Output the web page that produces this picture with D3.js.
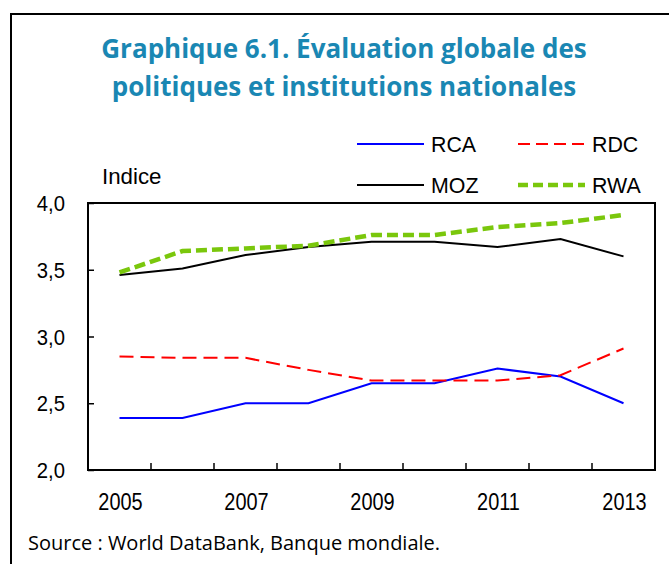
<!DOCTYPE html>
<html>
<head>
<meta charset="utf-8">
<script src="https://cdn.jsdelivr.net/npm/d3@7"></script>
<style>
  body { margin: 0; background: #fff; }
</style>
</head>
<body>
<div id="chart"></div>
<script>
// Data
const years = ["2005", "2006", "2007", "2008", "2009", "2010", "2011", "2012", "2013"];
const yearLabels = ["2005", "2007", "2009", "2011", "2013"];
const yTicks = [2.0, 2.5, 3.0, 3.5, 4.0];

const rca = [2.39, 2.39, 2.50, 2.50, 2.65, 2.65, 2.76, 2.70, 2.50];
const rdc = [2.85, 2.84, 2.84, 2.75, 2.67, 2.67, 2.67, 2.71, 2.91];
const moz = [3.46, 3.51, 3.61, 3.67, 3.71, 3.71, 3.67, 3.73, 3.60];
const rwa = [3.48, 3.64, 3.66, 3.68, 3.76, 3.76, 3.82, 3.85, 3.91];

const series = [
    { name: "RCA", values: rca, color: "#0000ff", width: 2, dash: null },
    { name: "RDC", values: rdc, color: "#ff0000", width: 2, dash: "14,7" },
    { name: "MOZ", values: moz, color: "#000000", width: 2, dash: null },
    { name: "RWA", values: rwa, color: "#7ac70c", width: 4.5, dash: "11,5" }
];

const W = 669, H = 564;
const plot = { left: 88, top: 203, right: 655, bottom: 470 };
const labelFont = "'Liberation Sans', Arial, sans-serif";

const svg = d3.select("#chart").append("svg")
    .attr("width", W)
    .attr("height", H);

// narrow-ish Arial text: draw at (x, y) with a horizontal squeeze
function label(g, x, y, txt, size, sx, anchor) {
    g.append("text")
        .attr("transform", `translate(${x},${y}) scale(${sx},1)`)
        .attr("text-anchor", anchor || "start")
        .style("font-family", labelFont)
        .style("font-size", size + "px")
        .attr("fill", "#000")
        .text(txt);
}

// outer frame (cut off at right/bottom like the reference)
svg.append("rect")
    .attr("x", 11).attr("y", 14)
    .attr("width", W + 10).attr("height", H + 10)
    .attr("fill", "none")
    .attr("stroke", "#000")
    .attr("stroke-width", 2);

// title
const title = svg.append("text")
    .attr("text-anchor", "middle")
    .attr("fill", "#1a87b3")
    .style("font-family", "'Open Sans', sans-serif")
    .style("font-weight", "bold")
    .style("font-size", "26px");
title.append("tspan").attr("x", 344).attr("y", 58).text("Graphique 6.1. Évaluation globale des");
title.append("tspan").attr("x", 344).attr("y", 96).text("politiques et institutions nationales");

// scales
const x = d3.scaleBand()
    .domain(years)
    .range([plot.left, plot.right]);

const y = d3.scaleLinear()
    .domain([2, 4])
    .range([plot.bottom, plot.top]);

const fmt = d => d3.format(".1f")(d).replace(".", ",");

// y axis: ticks inward
const yAxis = d3.axisLeft(y)
    .tickValues(yTicks)
    .tickSize(-6)
    .tickFormat("");

const gy = svg.append("g")
    .attr("transform", `translate(${plot.left},0)`)
    .call(yAxis);
gy.select(".domain").remove();
gy.selectAll(".tick line").attr("stroke", "#000").attr("stroke-width", 1.5);

const gyl = svg.append("g");
yTicks.forEach(t => label(gyl, 65, y(t) + 8, fmt(t), 22.5, 0.9, "end"));

// x axis: ticks at category boundaries, pointing inward
const boundaries = years.slice(1);
svg.append("g").selectAll("line")
    .data(boundaries)
    .join("line")
    .attr("x1", d => x(d))
    .attr("x2", d => x(d))
    .attr("y1", plot.bottom)
    .attr("y2", plot.bottom - 7)
    .attr("stroke", "#000")
    .attr("stroke-width", 1.5);

const gxl = svg.append("g");
yearLabels.forEach(d => label(gxl, x(d) + x.bandwidth() / 2 + 1, 510, d, 24, 0.83, "middle"));

// lines
const line = d3.line()
    .x((d, i) => x(years[i]) + x.bandwidth() / 2)
    .y(d => y(d));

series.forEach(s => {
    svg.append("path")
        .datum(s.values)
        .attr("fill", "none")
        .attr("stroke", s.color)
        .attr("stroke-width", s.width)
        .attr("stroke-dasharray", s.dash)
        .attr("d", line);
});

// plot frame
svg.append("rect")
    .attr("x", plot.left).attr("y", plot.top)
    .attr("width", plot.right - plot.left)
    .attr("height", plot.bottom - plot.top)
    .attr("fill", "none")
    .attr("stroke", "#000")
    .attr("stroke-width", 2);

// "Indice" label
label(svg, 102, 184, "Indice", 23, 0.97);

// legend
const legendPos = [
    { name: "RCA", x: 357, y: 144 },
    { name: "RDC", x: 518, y: 144 },
    { name: "MOZ", x: 357, y: 185 },
    { name: "RWA", x: 518, y: 185 }
];
const lg = svg.append("g");
legendPos.forEach(p => {
    const s = series.find(d => d.name === p.name);
    lg.append("line")
        .attr("x1", p.x).attr("x2", p.x + 67)
        .attr("y1", p.y).attr("y2", p.y)
        .attr("stroke", s.color)
        .attr("stroke-width", s.width)
        .attr("stroke-dasharray", s.name === "RWA" ? "10,5" : s.dash === null ? null : "12,6");
    label(lg, p.x + 74, p.y + 8, p.name, 23, 0.93);
});

// source
svg.append("text")
    .attr("x", 28).attr("y", 550)
    .style("font-family", "'Open Sans', sans-serif")
    .style("font-size", "20px")
    .text("Source : World DataBank, Banque mondiale.");
</script>
</body>
</html>
